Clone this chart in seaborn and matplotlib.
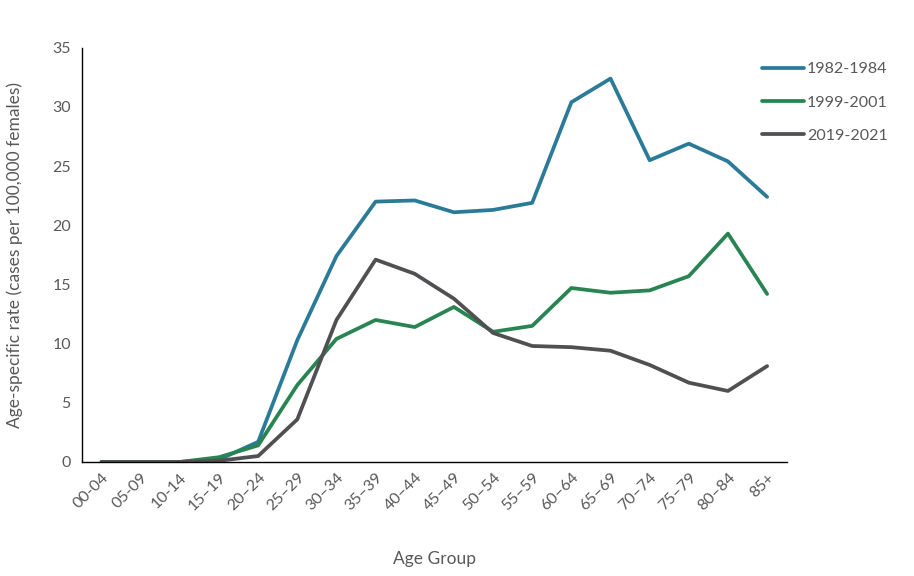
import pandas as pd
import matplotlib
matplotlib.use("Agg")
import matplotlib.pyplot as plt
import seaborn as sns

# Age groups and age-specific rates (cases per 100,000 females)
age_groups = ["00-04", "05-09", "10-14", "15\u201319", "20\u201324", "25\u201329", "30\u201334",
              "35\u201339", "40\u201344", "45\u201349", "50\u201354", "55\u201359", "60\u201364",
              "65\u201369", "70\u201374", "75\u201379", "80\u201384", "85+"]
periods = ["1982-1984", "1999-2001", "2019-2021"]
rate_1982 = [0, 0, 0, 0.2, 1.7, 10.3, 17.4, 22.0, 22.1, 21.1, 21.3, 21.9, 30.4, 32.4, 25.5, 26.9, 25.4, 22.4]
rate_1999 = [0, 0, 0, 0.4, 1.4, 6.5, 10.4, 12.0, 11.4, 13.1, 11.0, 11.5, 14.7, 14.3, 14.5, 15.7, 19.3, 14.2]
rate_2019 = [0, 0, 0, 0.1, 0.5, 3.6, 12.0, 17.1, 15.9, 13.8, 10.9, 9.8, 9.7, 9.4, 8.2, 6.7, 6.0, 8.1]
colors = ["#2b7b98", "#288450", "#505052"]

df = pd.DataFrame({
    "age": age_groups * 3,
    "rate": rate_1982 + rate_1999 + rate_2019,
    "period": [p for p in periods for _ in age_groups],
})

sns.set_style("white")
plt.rcParams["font.family"] = ["Lato", "DejaVu Sans"]
text_col = "#595959"

fig = plt.figure(figsize=(9.14, 5.76), dpi=100)
ax = fig.add_axes([0.0897, 0.198, 0.771, 0.719])

sns.lineplot(data=df, x="age", y="rate", hue="period", palette=colors,
             sort=False, linewidth=2.7, ax=ax)

ax.set_xlim(-0.5, len(age_groups) - 0.5)
ax.set_ylim(0, 35)
ax.set_yticks(range(0, 36, 5))
ax.tick_params(axis="both", length=0, colors=text_col, labelsize=11.5)
plt.setp(ax.get_xticklabels(), rotation=45, ha="right", rotation_mode="anchor")
ax.tick_params(axis="x", pad=6)
ax.tick_params(axis="y", pad=8)

for side in ["top", "right"]:
    ax.spines[side].set_visible(False)
for side in ["left", "bottom"]:
    ax.spines[side].set_color("#000000")
    ax.spines[side].set_linewidth(1.0)

ax.set_xlabel("Age Group", color=text_col, fontsize=12.5, labelpad=27)
ax.set_ylabel("Age-specific rate (cases per 100,000 females)", color=text_col,
              fontsize=12.5, labelpad=21)

ax.legend(title=None, frameon=False, loc="upper left",
          bbox_to_anchor=(0.818, 0.917), bbox_transform=fig.transFigure,
          fontsize=11.5, handlelength=2.6, handletextpad=0.2,
          labelspacing=1.2, labelcolor=text_col)

fig.savefig("out.png", dpi=100)
